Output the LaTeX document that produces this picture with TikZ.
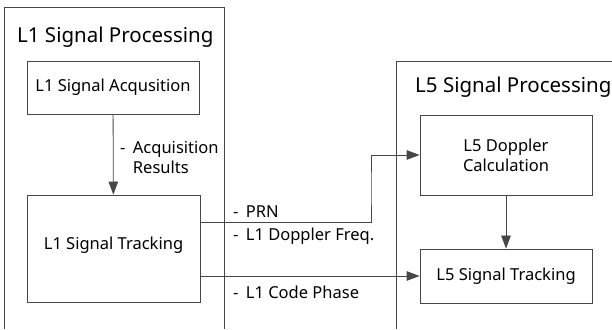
\documentclass[tikz,border=0pt]{standalone}
\usepackage{fontspec}
\setmainfont{Noto Sans}
\usepackage{xcolor}
\definecolor{linegrey}{RGB}{70, 70, 70}
\usetikzlibrary{arrows.meta, positioning, calc}

\begin{document}
\begin{tikzpicture}[x=1pt, y=1pt, >={Triangle[length=13pt, width=9.5pt]},
    procbox/.style={draw=linegrey, line width=0.8pt, rectangle, align=center, inner sep=0pt, font=\fontsize{16.5}{20}\selectfont},
    grouptitle/.style={anchor=west, inner sep=0pt, font=\fontsize{20.5}{24}\selectfont},
    siglabel/.style={anchor=west, inner sep=0pt, align=left, font=\fontsize{16.5}{20}\selectfont},
    sigline/.style={draw=linegrey, line width=0.8pt}]
    \useasboundingbox (0,0) rectangle (612,329);

    % group frames, open at the bottom
    \draw[sigline] (4,0) -- (4,322) -- (224,322) -- (224,0);
    \draw[sigline] (396,0) -- (396,268) -- (612,268);
    \node[grouptitle] (l1title) at (17,292) {L1 Signal Processing};
    \node[grouptitle] (l5title) at (415,242) {L5 Signal Processing};

    % blocks
    \node[procbox, minimum width=172pt, minimum height=53pt] (acq) at (113,241.5) {L1 Signal Acqusition};
    \node[procbox, minimum width=173pt, minimum height=107pt, text depth=10pt] (trk1) at (113.5,80.5) {L1 Signal Tracking};
    \node[procbox, minimum width=172pt, minimum height=80pt] (dop) at (506,174) {L5 Doppler\\Calculation};
    \node[procbox, minimum width=172pt, minimum height=54pt] (trk5) at (506,53) {L5 Signal Tracking};

    % connectors
    \coordinate (prnout) at (trk1.east |- 0,107);
    \coordinate (bend) at (371,140);
    \draw[sigline, ->] (acq) -- (trk1);
    \draw[sigline, ->] (dop) -- (trk5);
    \draw[sigline, ->] (prnout) -| (bend) |- (dop.west);
    \draw[sigline, ->] (trk1.east |- trk5.west) -- (trk5.west);

    \node[siglabel] (acqres) at (120,171) {-\hspace{0.45em}Acquisition\\\hphantom{-\hspace{0.45em}}Results};
    \node[siglabel] (prn) at (233,117) {-\hspace{0.45em}PRN};
    \node[siglabel] (dopfreq) at (233,93) {-\hspace{0.45em}L1 Doppler Freq.};
    \node[siglabel] (codeph) at (233,37) {-\hspace{0.45em}L1 Code Phase};
\end{tikzpicture}
\end{document}
